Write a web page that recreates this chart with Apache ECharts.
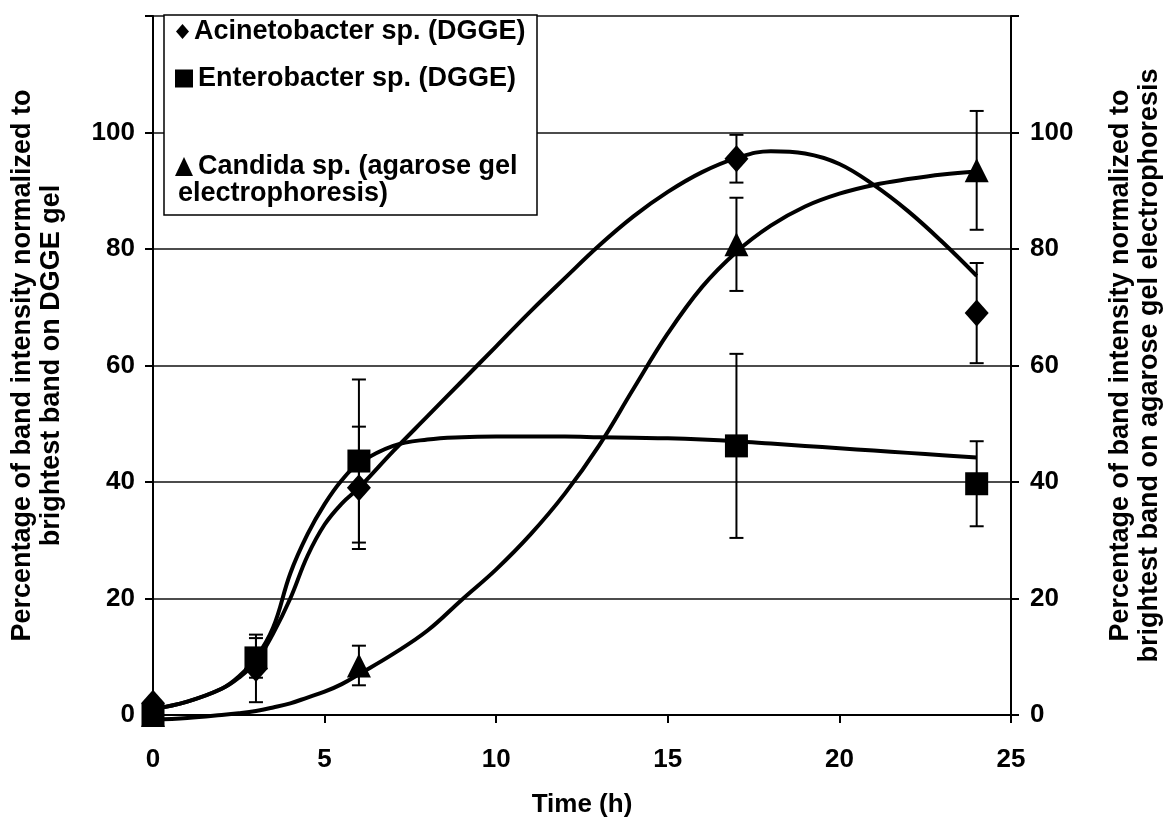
<!DOCTYPE html>
<html>
<head>
<meta charset="utf-8">
<script src="https://cdn.jsdelivr.net/npm/echarts@6/dist/echarts.min.js"></script>
<style>
html,body{margin:0;padding:0;background:#fff;}
#chart{width:1172px;height:824px;}
</style>
</head>
<body>
<div id="chart"></div>
<script>
// ---- data ----
const seriesNames = ['Acinetobacter sp. (DGGE)', 'Enterobacter sp. (DGGE)', 'Candida sp. (agarose gel electrophoresis)'];
const xTickLabels = ['0', '5', '10', '15', '20', '25'];
const yTickLabels = ['0', '20', '40', '60', '80', '100'];

const times = [0, 3, 6, 17, 24];
const acinetobacter = [2, 8, 39, 95.5, 69];
const acinetobacterErr = [0, 5.8, 10.5, 4.1, 8.6];
const enterobacter = [0, 9.8, 43.6, 46.2, 39.7];
const enterobacterErr = [0, 3.4, 14, 15.8, 7.3];
const candidaTimes = [0, 6, 17, 24];
const candida = [0, 8.5, 80.8, 93.5];
const candidaErr = [0, 3.4, 8, 10.2];

// fitted trend curves
const fitTimes = [0, 1, 2, 2.5, 3, 3.5, 4, 4.5, 5, 5.5, 6, 7, 8, 9, 10, 11, 12, 13, 14, 15, 16, 17, 18, 19, 20, 21, 22, 23, 24];
const acinetobacterFit = [1.0, 2.3, 4.5, 6.4, 9.2, 14, 20, 27.3, 32.7, 36.3, 39, 45.3, 51.3, 57.3, 63.3, 69.3, 75, 80.6, 85.6, 89.8, 93.2, 95.6, 96.8, 96.4, 94.6, 91, 86.5, 81.2, 75.4];
const enterobacterFit = [1.0, 2.3, 4.5, 6.6, 9.8, 15, 24.3, 31, 36.2, 40.3, 43.2, 46.2, 47.3, 47.7, 47.8, 47.8, 47.8, 47.7, 47.6, 47.5, 47.3, 47.0, 46.6, 46.2, 45.8, 45.4, 45.0, 44.6, 44.2];
const candidaFit = [-0.8, -0.5, 0, 0.3, 0.7, 1.3, 2, 3, 4, 5.3, 7, 10.5, 14.5, 19.8, 25, 31, 38, 46.3, 56, 65.5, 73.5, 79.5, 84, 87.3, 89.5, 91, 92, 92.8, 93.3];

// ---- build ----
const FONT = 'Liberation Sans, Arial, sans-serif';
const zip = (xs, ys) => xs.map((x, i) => [x, ys[i]]);
const zip3 = (xs, ys, es) => xs.map((x, i) => [x, ys[i], es[i]]);

function errRender(params, api) {
  const x = api.value(0), v = api.value(1), e = api.value(2);
  if (!(e > 0)) return null;
  const top = api.coord([x, v + e]);
  const bot = api.coord([x, v - e]);
  const hw = 7;
  const st = { stroke: '#000', lineWidth: 2 };
  return {
    type: 'group',
    children: [
      { type: 'line', shape: { x1: top[0], y1: top[1], x2: bot[0], y2: bot[1] }, style: st },
      { type: 'line', shape: { x1: top[0] - hw, y1: top[1], x2: top[0] + hw, y2: top[1] }, style: st },
      { type: 'line', shape: { x1: bot[0] - hw, y1: bot[1], x2: bot[0] + hw, y2: bot[1] }, style: st }
    ]
  };
}

const axisLabelStyle = { fontFamily: FONT, fontWeight: 'bold', fontSize: 26, color: '#000' };
const nameStyle = { fontFamily: FONT, fontWeight: 'bold', fontSize: 27, color: '#000', lineHeight: 29 };
const yFmt = v => (yTickLabels.indexOf(String(v)) >= 0 ? String(v) : '');
const xFmt = v => (xTickLabels.indexOf(String(v)) >= 0 ? String(v) : '');

const fitLine = (name, data) => ({
  name: name, type: 'line', data: data, smooth: 0.4, showSymbol: false, symbol: 'none',
  lineStyle: { color: '#000', width: 4, opacity: 1 }, itemStyle: { color: '#000' }, clip: false, z: 2, silent: true
});
const errSeries = (name, data) => ({
  name: name, type: 'custom', renderItem: errRender, data: data, encode: { x: 0, y: 1 }, clip: false, z: 3, silent: true
});
const markerSeries = (name, symbol, size, xs, ys) => ({
  name: name, type: 'scatter', symbol: symbol, symbolSize: size, data: zip(xs, ys),
  itemStyle: { color: '#000', opacity: 1 }, clip: false, z: 4
});

const legendText = { fontFamily: FONT, fontWeight: 'bold', fontSize: 27, color: '#000' };

const option = {
  animation: false,
  backgroundColor: '#fff',
  grid: { left: 151, right: 146, top: 16, bottom: 109 },
  xAxis: {
    type: 'value', min: 0, max: 25, interval: 5,
    name: 'Time (h)', nameLocation: 'middle', nameGap: 77,
    nameTextStyle: { fontFamily: FONT, fontWeight: 'bold', fontSize: 26, color: '#000' },
    axisLine: { lineStyle: { color: '#000', width: 2 } },
    axisTick: { inside: false, length: 8, lineStyle: { color: '#000', width: 2 } },
    axisLabel: Object.assign({ margin: 32, formatter: xFmt }, axisLabelStyle),
    splitLine: { show: false }
  },
  yAxis: [
    {
      type: 'value', min: 0, max: 120, interval: 20, position: 'left',
      name: 'Percentage of band intensity normalized to\nbrightest band on DGGE gel',
      nameLocation: 'middle', nameGap: 87, nameRotate: 90, nameTextStyle: nameStyle,
      axisLine: { show: true, lineStyle: { color: '#000', width: 2 } },
      axisTick: { show: true, inside: false, length: 8, lineStyle: { color: '#000', width: 2 } },
      axisLabel: Object.assign({ margin: 18, formatter: yFmt }, axisLabelStyle),
      splitLine: { show: true, lineStyle: { color: '#111', width: 1.5 } }
    },
    {
      type: 'value', min: 0, max: 120, interval: 20, position: 'right',
      name: 'Percentage of band intensity normalized to\nbrightest band on agarose gel electrophoresis',
      nameLocation: 'middle', nameGap: 95, nameRotate: 90, nameTextStyle: nameStyle,
      axisLine: { show: true, lineStyle: { color: '#000', width: 2 } },
      axisTick: { show: true, inside: false, length: 8, lineStyle: { color: '#000', width: 2 } },
      axisLabel: Object.assign({ margin: 19, formatter: yFmt }, axisLabelStyle),
      splitLine: { show: false }
    }
  ],
  legend: [
    {
      data: [{ name: seriesNames[0], icon: 'diamond' }],
      left: 176, top: 18, padding: 0, itemWidth: 13, itemHeight: 15, itemGap: 0,
      textStyle: legendText, selectedMode: false, z: 10
    },
    {
      data: [{ name: seriesNames[1], icon: 'rect' }],
      left: 175, top: 65, padding: 0, itemWidth: 18, itemHeight: 18, itemGap: 0,
      textStyle: legendText, selectedMode: false, z: 10
    },
    {
      data: [{ name: seriesNames[2], icon: 'triangle' }],
      left: 175, top: 153, padding: 0, itemWidth: 18, itemHeight: 19, itemGap: 0,
      textStyle: legendText, selectedMode: false, z: 10,
      formatter: () => 'Candida sp. (agarose gel'
    }
  ],
  graphic: [
    { type: 'rect', shape: { x: 164, y: 15, width: 373, height: 200 }, style: { fill: '#fff', stroke: '#000', lineWidth: 1.5 }, z: 5 },
    { type: 'text', x: 178, y: 180, style: { text: 'electrophoresis)', font: 'bold 27px ' + FONT, fill: '#000' }, z: 11 }
  ],
  series: [
    fitLine('fit-acinetobacter', zip(fitTimes, acinetobacterFit)),
    fitLine('fit-enterobacter', zip(fitTimes, enterobacterFit)),
    fitLine('fit-candida', zip(fitTimes, candidaFit)),
    errSeries('err-acinetobacter', zip3(times, acinetobacter, acinetobacterErr)),
    errSeries('err-enterobacter', zip3(times, enterobacter, enterobacterErr)),
    errSeries('err-candida', zip3(candidaTimes, candida, candidaErr)),
    markerSeries(seriesNames[2], 'triangle', [24, 24], candidaTimes, candida),
    markerSeries(seriesNames[1], 'rect', [23, 23], times, enterobacter),
    markerSeries(seriesNames[0], 'diamond', [24, 27], times, acinetobacter)
  ]
};

const chart = echarts.init(document.getElementById('chart'), null, { renderer: 'canvas' });
chart.setOption(option);
</script>
</body>
</html>
